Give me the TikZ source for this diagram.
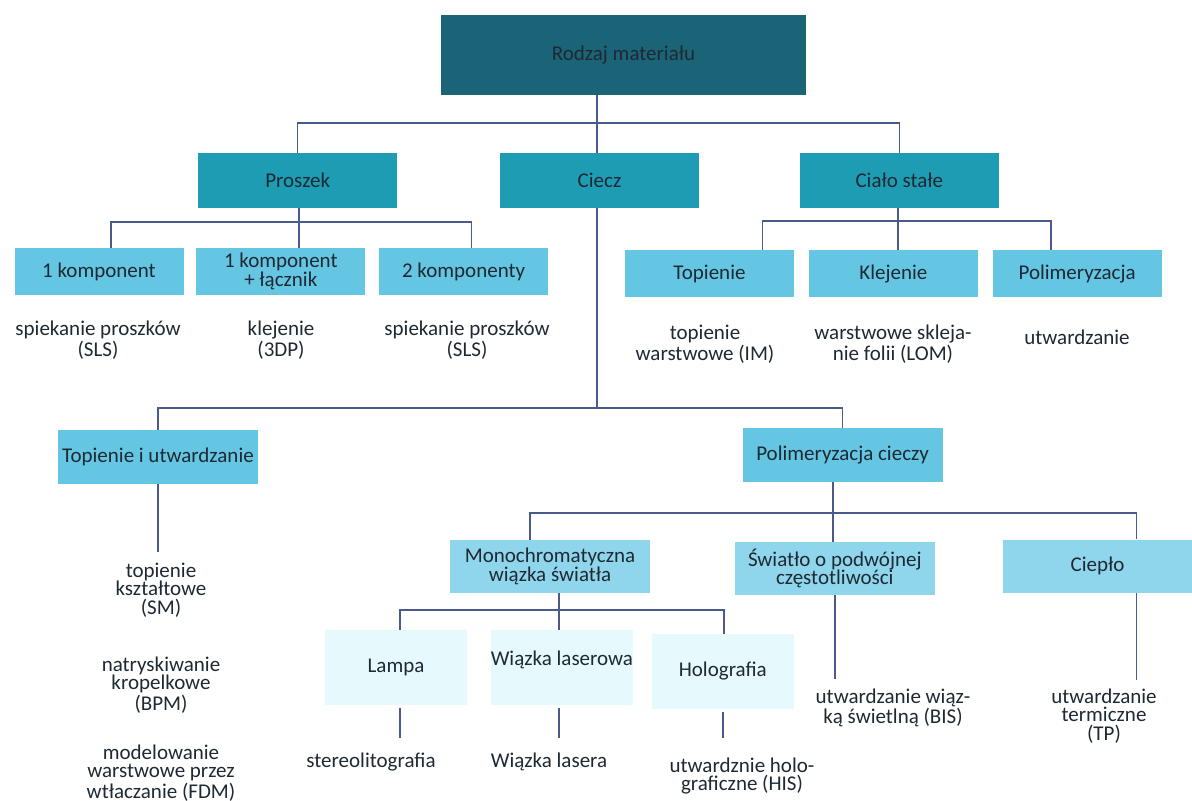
\documentclass[tikz,border=0pt]{standalone}
\usepackage{fontspec}
\setmainfont{Carlito}
\usepackage{tikz}
\usetikzlibrary{positioning}
\definecolor{rootcol}{HTML}{1B6377}
\definecolor{grpcol}{HTML}{1E9CB4}
\definecolor{subcol}{HTML}{64C6E2}
\definecolor{midcol}{HTML}{8FD6EC}
\definecolor{leafcol}{HTML}{E6FAFD}
\definecolor{linecol}{HTML}{4A5A8A}
\definecolor{inktxt}{HTML}{1F2933}

\begin{document}
\begin{tikzpicture}[
    x=0.5pt, y=-0.5pt,
    node distance=6.5pt,
    base/.style={inner sep=0pt, align=center, text=inktxt, font=\fontsize{10.5}{9.2}\selectfont},
    rootbox/.style={base, fill=rootcol, minimum width=182.5pt, minimum height=40pt},
    grpbox/.style={base, fill=grpcol, minimum width=99.5pt, minimum height=27.5pt},
    subbox/.style={base, fill=subcol, minimum width=84.5pt, minimum height=23.5pt},
    midbox/.style={base, fill=midcol, minimum width=100pt, minimum height=26.5pt},
    leafbox/.style={base, fill=leafcol, minimum width=71pt, minimum height=37.5pt},
    note/.style={base, inner sep=1pt},
    conn/.style={draw=linecol, line width=0.7pt}
]
\useasboundingbox[fill=white] (0,0) rectangle (1192,801);

% material tree
\node[rootbox] (root) at (623.5,55) {Rodzaj materiału};
\node[grpbox] (ciecz) at (599.5,180.5) {Ciecz};
\node[grpbox, left=51pt of ciecz] (proszek) {Proszek};
\node[grpbox, right=50pt of ciecz] (cialo) {Ciało stałe};

% powder
\node[subbox] (k1) at (99,271.5) {1 komponent};
\node[subbox, right=6pt of k1] (k2) {1 komponent\\+ łącznik};
\node[subbox, right=6.5pt of k2] (k3) {2 komponenty};
\node[note] (n1) at (98,340) {spiekanie proszków\\(SLS)};
\node[note] (n2) at (281,340) {klejenie\\(3DP)};
\node[note] (n3) at (467,340) {spiekanie proszków\\(SLS)};

% solid
\node[subbox] (topn) at (709.5,274) {Topienie};
\node[subbox, right=7pt of topn] (klej) {Klejenie};
\node[subbox, right=7pt of klej] (polim) {Polimeryzacja};
\node[note] (n4) at (705,344) {topienie\\warstwowe (IM)};
\node[note] (n5) at (893,344) {warstwowe skleja-\\nie folii (LOM)};
\node[note] (n6) at (1077,337) {utwardzanie};

% liquid
\node[subbox, minimum width=100pt, minimum height=27pt] (tu) at (158,457) {Topienie i utwardzanie};
\node[subbox, minimum width=100pt, minimum height=27pt] (pc) at (842.5,455) {Polimeryzacja cieczy};
\node[note] (n7) at (161,590) {topienie\\kształtowe\\(SM)};
\node[note] (n8) at (161,685) {natryskiwanie\\kropelkowe\\(BPM)};
\node[note] (n9) at (161,773) {modelowanie\\warstwowe przez\\wtłaczanie (FDM)};

\node[midbox] (mono) at (550,566.5) {Monochromatyczna\\wiązka światła};
\node[midbox, right=42pt of mono, yshift=-1pt] (swiatlo) {Światło o podwójnej\\częstotliwości};
\node[midbox, minimum width=94.5pt] (cieplo) at (1097.5,566) {Ciepło};
\node[note] (n13) at (893,708) {utwardzanie wiąz-\\ką świetlną (BIS)};
\node[note] (n14) at (1104,716) {utwardzanie\\termiczne\\(TP)};

\node[leafbox] (lampa) at (396,667.5) {Lampa};
\node[leafbox, right=11.5pt of lampa] (laser) {Wiązka laserowa\\ \mbox{}};
\node[leafbox, right=9pt of laser, yshift=-2pt] (holo) {Holografia};
\node[note] (n10) at (371,762) {stereolitografia};
\node[note] (n11) at (549,762) {Wiązka lasera};
\node[note] (n12) at (742,776) {utwardznie holo-\\graficzne (HIS)};

% connectors
\coordinate (b1) at (597,123);
\draw[conn] (root.south -| b1) -- (ciecz.north -| b1);
\draw[conn] (proszek.north) |- (b1) -| (cialo.north);

\coordinate (b2) at (299,222);
\draw[conn] (proszek.south -| b2) -- (k2.north -| b2);
\draw[conn] ([xshift=6pt]k1.north) |- (b2) -| ([xshift=4pt]k3.north);

\coordinate (b3) at (898,221);
\draw[conn] (cialo.south -| b3) -- (klej.north -| b3);
\draw[conn] ([xshift=26.5pt]topn.north) |- (b3) -| ([xshift=-13pt]polim.north);

\coordinate (b4) at (597,408);
\draw[conn] (ciecz.south -| b4) -- (b4);
\draw[conn] (tu.north) |- (b4) -| (pc.north);
\draw[conn, shorten >=4.5pt] (tu.south) -- (tu.south |- n7.north);

\coordinate (b5) at (833,513);
\draw[conn] (pc.south -| b5) -- (swiatlo.north -| b5);
\draw[conn] ([xshift=-10pt]mono.north) |- (b5) -| ([xshift=-28pt]cieplo.north east);
\draw[conn, shorten >=3.5pt] (swiatlo.south) -- (swiatlo.south |- n13.north);
\coordinate (c1) at ([xshift=-28pt]cieplo.south east);
\draw[conn, shorten >=3pt] (c1) -- (c1 |- n14.north);

\coordinate (b6) at (559,610);
\draw[conn] (mono.south -| b6) -- (laser.north -| b6);
\draw[conn] ([xshift=2pt]lampa.north) |- (b6) -| ([xshift=0.5pt]holo.north);
\draw[conn, shorten <=1.5pt, shorten >=6.5pt] ([xshift=2pt]lampa.south) -- ([xshift=2pt]lampa.south |- n10.north);
\draw[conn, shorten <=1.5pt, shorten >=6.5pt] (laser.south -| b6) -- (b6 |- n11.north);
\draw[conn, shorten <=1.5pt, shorten >=8.5pt] (holo.south) -- (holo.south |- n12.north);
\end{tikzpicture}
\end{document}
